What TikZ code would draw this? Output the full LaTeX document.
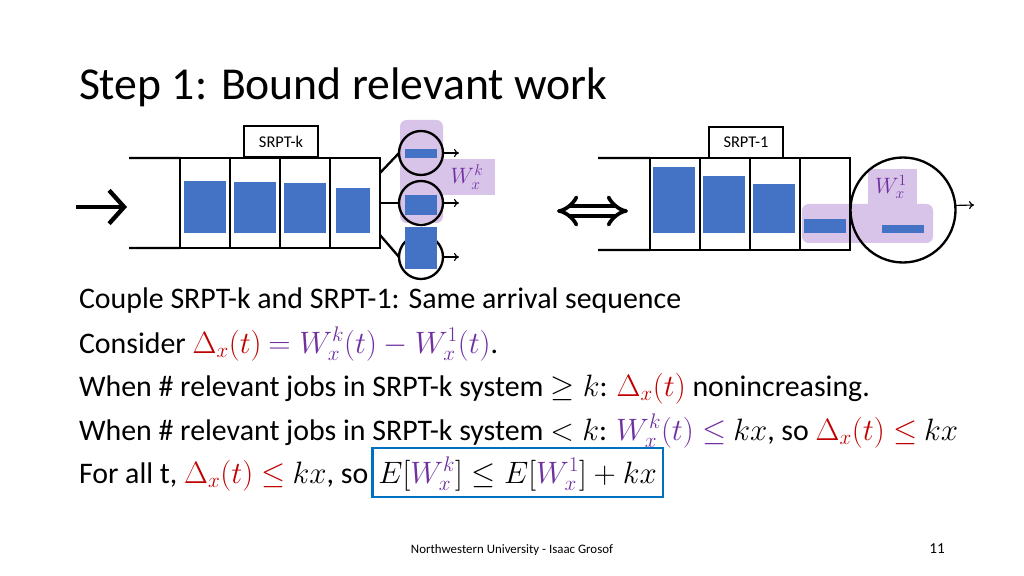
\RequirePackage{fix-cm}
\documentclass[tikz,border=0pt]{standalone}
\usepackage{fontspec}
\setmainfont{Carlito}
\usepackage{amssymb}
\usetikzlibrary{arrows.meta,calc,positioning}
\definecolor{jobblue}{RGB}{68,114,196}
\definecolor{hilite}{RGB}{217,196,233}
\definecolor{workpurple}{RGB}{112,48,160}
\definecolor{deltared}{RGB}{192,0,0}
\definecolor{boxblue}{RGB}{0,112,192}
\DeclareMathSizes{25.5}{26.4}{18}{13}

\begin{document}
\begin{tikzpicture}[x=0.3mm, y=-0.3mm, every node/.style={outer sep=0pt},
  cell/.style={draw, line width=0.7mm, minimum width=15mm, minimum height=27mm, inner sep=0pt},
  job/.style={fill=jobblue, minimum width=12.6mm, inner sep=0pt, anchor=south},
  server/.style={draw, circle, line width=0.7mm, minimum size=13.2mm, inner sep=0pt},
  tag/.style={draw, line width=0.5mm, fill=white, minimum width=22.2mm, minimum height=9.3mm, inner sep=0pt, font=\fontsize{14}{16}\selectfont},
  txt/.style={anchor=base west, inner sep=0pt, font=\fontsize{25.5}{30}\selectfont},
  wire/.style={line width=0.7mm},
  exit/.style={line width=0.35mm, -{To[length=1.5mm, width=2.4mm]}}]
\fill[white] (0,0) rectangle (1024,576);
\useasboundingbox (0,0) rectangle (1024,576);

\node[anchor=base west, inner sep=0pt, font=\fontsize{39}{46}\selectfont] (title) at (79,100) {Step 1: Bound relevant work};

\fill[hilite, rounded corners=2mm] (400,120) rectangle (443,223);
\fill[hilite] (440,159) rectangle (495,195);
\node[text=workpurple, font=\fontsize{19}{22}\selectfont] (wk) at (467,177) {$W_x^k$};

\node[cell] (qkA) at (205,203) {};
\node[cell] (qkB) at (255,203) {};
\node[cell] (qkC) at (305,203) {};
\node[cell] (qkD) at (355,203) {};
\draw[wire] (qkA.north west) -- (129,158);
\draw[wire] (qkA.south west) -- (129,248);

\node[job, minimum height=15.6mm] at (205,233) {};
\node[job, minimum height=15.3mm] at (255,233) {};
\node[job, minimum height=15mm] at (305,233) {};
\node[job, minimum width=10.2mm, minimum height=13.5mm] at (353,233) {};

\node[server] (srvA) at (421,153) {};
\node[server] (srvB) at (421,203) {};
\node[server] (srvC) at (421,257) {};
\node[job, minimum width=9.6mm, minimum height=2.7mm] at (421,158) {};
\node[job, minimum width=9.6mm, minimum height=6mm] at (421,215) {};
\node[job, minimum width=9.6mm, minimum height=12.6mm] at (421,269) {};

\draw[wire] ($(qkD.east)+(0,-30)$) -- (srvA.west);
\draw[wire] (qkD.east) -- (srvB.west);
\draw[wire] ($(qkD.east)+(0,32)$) -- (srvC.west);
\coordinate (outA) at (459,153);
\coordinate (outB) at (459,203);
\coordinate (outC) at (459,257);
\draw[exit] (srvA.east) -- (outA);
\draw[exit] (srvB.east) -- (outB);
\draw[exit] (srvC.east) -- (outC);

\node[tag] (tagK) at (281,141.5) {SRPT-k};

\coordinate (inTail) at (76,207);
\coordinate (inHead) at (127,207);
\draw[line width=1.3mm, -{Straight Barb[length=4.5mm, width=10mm]}] (inTail) -- (inHead);

\coordinate (eqL) at (557,211);
\coordinate (eqR) at (628,211);
\draw[double, double distance=2mm, line width=1.1mm, {Implies}-{Implies}] (eqL) -- (eqR);

\fill[hilite, rounded corners=2mm] (802,204) rectangle (933,243);
\fill[hilite] (868,169) rectangle (917,206);

\node[cell, minimum height=27.6mm] (q1A) at (675,204) {};
\node[cell, minimum height=27.6mm] (q1B) at (725,204) {};
\node[cell, minimum height=27.6mm] (q1C) at (775,204) {};
\node[cell, minimum height=27.6mm] (q1D) at (825,204) {};
\draw[wire] (q1A.north west) -- (598,158);
\draw[wire] (q1A.south west) -- (598,250);

\node[job, minimum height=19.8mm] at (674,233) {};
\node[job, minimum height=17.1mm] at (724,233) {};
\node[job, minimum height=14.7mm] at (774,233) {};
\node[job, minimum height=4.2mm] at (825,233) {};

\node[server, minimum size=31.5mm] (srvR) at (903,210) {};
\node[job, minimum height=2.4mm] at (903,233) {};
\node[text=workpurple, font=\fontsize{19}{22}\selectfont] (w1) at (891,187) {$W_x^1$};
\coordinate (outR) at (974,205);
\draw[exit] (srvR.5) -- (outR);

\node[tag] (tag1) at (746,142.5) {SRPT-1};

\node[txt] (lnA) at (79,309) {Couple SRPT-k and SRPT-1: Same arrival sequence};
\node[txt] (lnB) at (79,353) {Consider {\color{deltared}$\Delta_x(t)$} {\color{workpurple}$= W_x^k(t) - W_x^1(t)$}.};
\node[txt] (lnC) at (79,396) {When \# relevant jobs in SRPT-k system $\geq k$: {\color{deltared}$\Delta_x(t)$} nonincreasing.};
\node[txt] (lnD) at (79,440) {When \# relevant jobs in SRPT-k system $< k$: {\color{workpurple}$W_x^k(t) \leq$} $kx$, so {\color{deltared}$\Delta_x(t) \leq$} $kx$};
\node[txt] (lnE) at (79,483) {For all t, {\color{deltared}$\Delta_x(t) \leq$} $kx$, so};
\node[base right=1.2mm of lnE, draw=boxblue, line width=0.75mm, inner xsep=1.8mm, inner ysep=0pt, text height=10.5mm, text depth=4.2mm, font=\fontsize{25.5}{30}\selectfont] (bnd) {$E[{\color{workpurple}W_x^k}] \leq E[{\color{workpurple}W_x^1}] + kx$};

\node[font=\fontsize{11}{13}\selectfont] (foot) at (512,550) {Northwestern University - Isaac Grosof};
\node[font=\fontsize{13}{15}\selectfont] (pgno) at (937,549) {11};
\end{tikzpicture}
\end{document}
